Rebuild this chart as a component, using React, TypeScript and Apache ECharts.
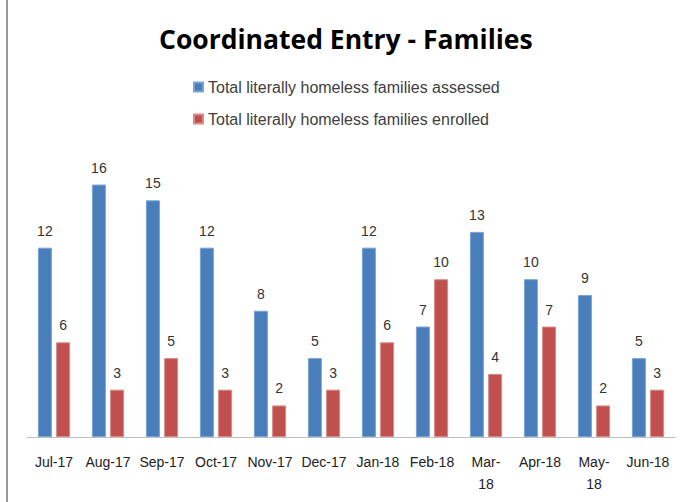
import React, { useEffect, useRef } from "react";
import * as echarts from "echarts";

const categories = ["Jul-17", "Aug-17", "Sep-17", "Oct-17", "Nov-17", "Dec-17", "Jan-18", "Feb-18", "Mar-18", "Apr-18", "May-18", "Jun-18"];
const assessed = [12, 16, 15, 12, 8, 5, 12, 7, 13, 10, 9, 5];
const enrolled = [6, 3, 5, 3, 2, 3, 6, 10, 4, 7, 2, 3];
const wrapped = ["Mar-18", "May-18"];

const FONT = "'Liberation Sans', sans-serif";

export default function App() {
  const ref = useRef<HTMLDivElement>(null);
  useEffect(() => {
    if (!ref.current) return;
    const chart = echarts.init(ref.current, null, { renderer: "svg" });
    chart.setOption({
      animation: false,
      backgroundColor: "#ffffff",
      title: {
        text: "Coordinated Entry - Families",
        left: 154,
        top: 20,
        textStyle: { fontFamily: "'Open Sans', sans-serif", fontSize: 26.5, fontWeight: "bold", color: "#000" },
      },
      legend: {
        orient: "vertical",
        left: 188,
        top: 74,
        itemWidth: 9,
        itemHeight: 9,
        itemGap: 16,
        icon: "rect",
        textStyle: { fontFamily: FONT, fontSize: 16, color: "#404040" },
      },
      grid: { left: 27, right: 6, top: 153, bottom: 65, containLabel: false },
      xAxis: {
        type: "category",
        data: categories,
        axisLine: { lineStyle: { color: "#bfbfbf", width: 1 } },
        axisTick: { show: false },
        axisLabel: {
          interval: 0,
          margin: 14,
          fontFamily: FONT,
          fontSize: 14,
          color: "#222",
          lineHeight: 22,
          formatter: (v: string) => (wrapped.includes(v) ? v.replace("-", "-\n") : v),
        },
      },
      yAxis: { type: "value", min: 0, max: 18, show: false, splitLine: { show: false } },
      graphic: [
        { type: "line", shape: { x1: 7, y1: 0, x2: 7, y2: 502 }, style: { stroke: "#999", lineWidth: 2 } },
      ],
      series: [
        {
          name: "Total literally homeless families assessed",
          type: "bar",
          data: assessed,
          barWidth: 14,
          barGap: "30%",
          itemStyle: { color: "#4a7ebb", borderColor: "#7aa3d6", borderWidth: 1 },
          label: { show: true, position: "top", distance: 10, fontFamily: FONT, fontSize: 14, color: "#333" },
        },
        {
          name: "Total literally homeless families enrolled",
          type: "bar",
          data: enrolled,
          barWidth: 14,
          itemStyle: { color: "#c0504d", borderColor: "#d98a88", borderWidth: 1 },
          label: { show: true, position: "top", distance: 10, fontFamily: FONT, fontSize: 14, color: "#333" },
        },
      ],
    });
    return () => chart.dispose();
  }, []);
  return <div ref={ref} style={{ width: 681, height: 502, position: "absolute", left: 0, top: 0 }} />;
}
